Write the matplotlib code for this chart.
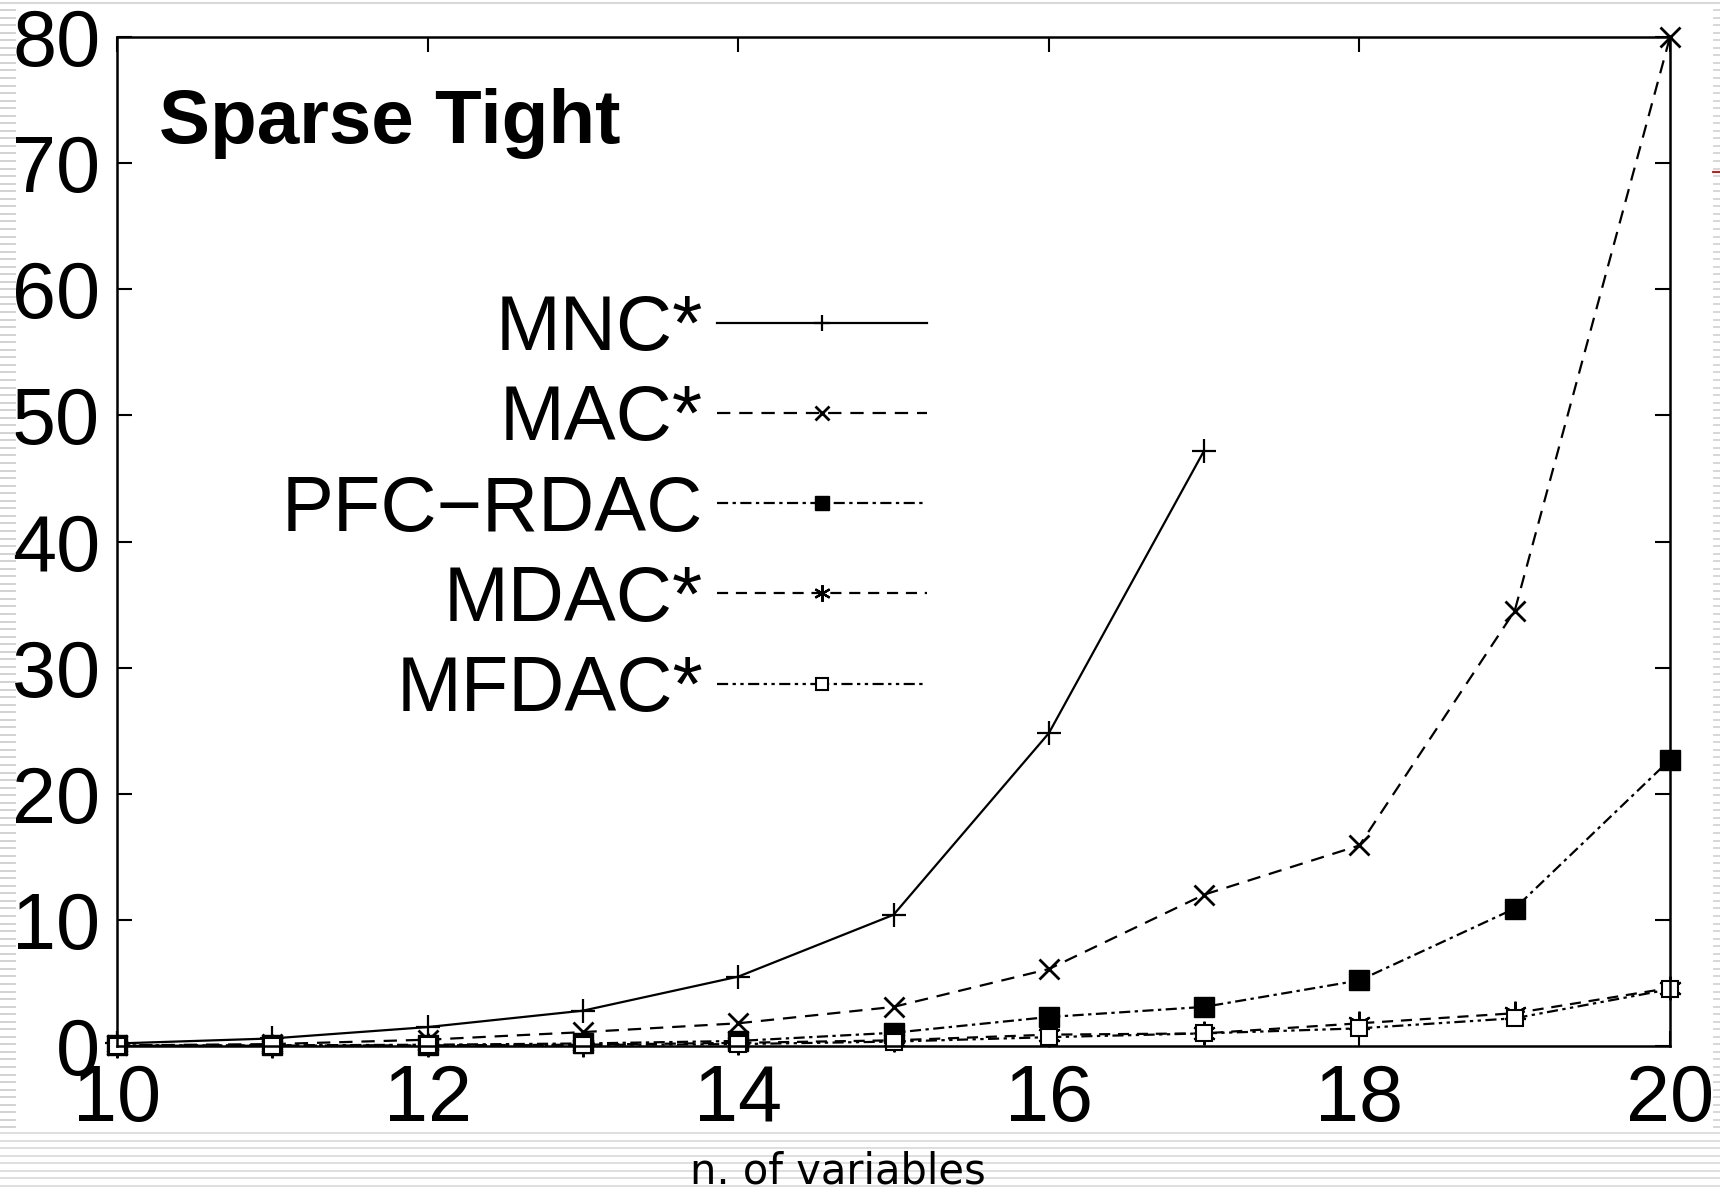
import numpy as np
import matplotlib.pyplot as plt
from matplotlib.lines import Line2D
from matplotlib.patches import Rectangle

plt.rcParams['font.family'] = ['Liberation Sans', 'DejaVu Sans']

# values (time vs. number of variables)
n_vars = [10, 11, 12, 13, 14, 15, 16, 17, 18, 19, 20]
mnc = [0.2, 0.6, 1.5, 2.8, 5.5, 10.4, 24.8, 47.2]          # stops at 17
mac = [0.05, 0.15, 0.5, 1.1, 1.8, 3.1, 6.1, 12.0, 15.9, 34.5, 80.0]
pfc_rdac = [0.05, 0.05, 0.1, 0.2, 0.4, 1.05, 2.3, 3.1, 5.2, 10.9, 22.7]
mdac = [0.02, 0.03, 0.05, 0.1, 0.25, 0.45, 0.9, 1.0, 1.8, 2.6, 4.6]
mfdac = [0.02, 0.02, 0.04, 0.08, 0.15, 0.35, 0.7, 1.0, 1.4, 2.2, 4.5]

labels = ['MNC*', 'MAC*', 'PFC\u2212RDAC', 'MDAC*', 'MFDAC*']
xticks = [10, 12, 14, 16, 18, 20]
yticks = [0, 10, 20, 30, 40, 50, 60, 70, 80]

W, H = 1720, 1192
fig = plt.figure(figsize=(W / 100, H / 100), dpi=100)
ax = fig.add_axes([117 / W, 1 - 1046 / H, (1670 - 117) / W, (1046 - 37) / H])

lw = 1.6
ax.plot(n_vars[:len(mnc)], mnc, color='black', lw=lw, ls='-',
        marker='+', ms=17, mew=1.6, clip_on=False, label=labels[0])
ax.plot(n_vars, mac, color='black', lw=lw, dashes=(6, 4),
        marker='x', ms=15, mew=2.0, clip_on=False, label=labels[1])
ax.plot(n_vars, pfc_rdac, color='black', lw=lw, dashes=(5, 2, 1.5, 2),
        marker='s', ms=14, mfc='black', mec='black', clip_on=False, label=labels[2])
ax.plot(n_vars, mdac, color='black', lw=lw, dashes=(5, 3.5),
        marker=(6, 2, 0), ms=17, mew=1.6, clip_on=False, label=labels[3])
ax.plot(n_vars, mfdac, color='black', lw=lw, dashes=(5, 2, 1.5, 2, 1.5, 2),
        marker='s', ms=12, mfc='white', mec='black', mew=1.5, clip_on=False,
        label=labels[4])

ax.set_xlim(10, 20)
ax.set_ylim(0, 80)
ax.set_xticks(xticks)
ax.set_yticks(yticks)
ax.tick_params(direction='in', length=11, width=1.5, top=True, right=True,
               labelsize=57, colors='black')
ax.tick_params(axis='x', pad=12)
ax.tick_params(axis='y', pad=12)
for s in ax.spines.values():
    s.set_linewidth(1.8)

ax.text(0.027, 0.895, 'Sparse Tight', transform=ax.transAxes, fontsize=55,
        fontweight='bold', va='baseline', ha='left')

leg = ax.legend(loc='center right', bbox_to_anchor=(927 / W, 1 - 510 / H),
                bbox_transform=fig.transFigure, frameon=False, markerfirst=False,
                fontsize=56, handlelength=2.7, handletextpad=0.18,
                labelspacing=0.22, borderpad=0, borderaxespad=0, markerscale=0.7)

# slide background decoration
def fx(x):
    return x / W

def fy(y):
    return 1 - y / H

fig.add_artist(Rectangle((0, 0), 1, fy(1128), transform=fig.transFigure,
                         facecolor='white', edgecolor='none', zorder=5))
for y in np.arange(1133, H, 7.5):
    fig.add_artist(Line2D([0, 1], [fy(y), fy(y)], transform=fig.transFigure,
                          color='#dcdcdc', lw=1.3, zorder=6))
for y in np.arange(10, 1128, 7.55):
    fig.add_artist(Line2D([0, fx(15)], [fy(y), fy(y)], transform=fig.transFigure,
                          color='#cfcfcf', lw=1.3, zorder=6))
    fig.add_artist(Line2D([fx(1714), 1], [fy(y), fy(y)], transform=fig.transFigure,
                          color='#d4d4d4', lw=1.3, zorder=6))
fig.add_artist(Line2D([0, 1], [fy(3), fy(3)], transform=fig.transFigure,
                      color='#d8d8d8', lw=1.5, zorder=6))
fig.add_artist(Line2D([fx(1713), 1], [fy(172), fy(172)], transform=fig.transFigure,
                      color='#cc0000', lw=1.3, zorder=7))

fig.text(fx(838), fy(1183), 'n. of variables', fontsize=30, family='DejaVu Sans',
         ha='center', va='baseline', zorder=8)

fig.savefig('out.png', dpi=100)
